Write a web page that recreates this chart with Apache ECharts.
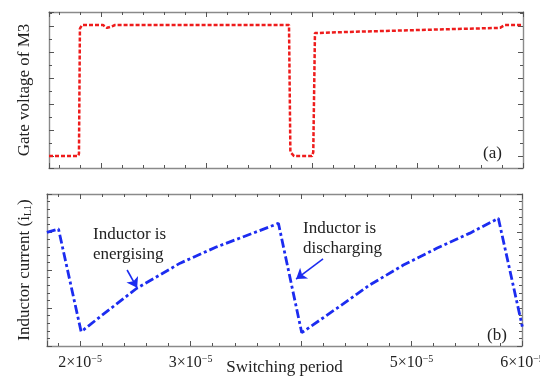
<!DOCTYPE html>
<html>
<head>
<meta charset="utf-8">
<script src="https://cdn.jsdelivr.net/npm/echarts@6/dist/echarts.min.js"></script>
<style>
  html, body { margin: 0; padding: 0; background: #fff; }
  #main { width: 540px; height: 378px; }
</style>
</head>
<body>
<div id="main"></div>
<script>
// time in units of 1e-5 s
var gateTime = [1.507, 1.785, 1.791, 1.80, 1.82, 2.019, 2.057, 2.104, 2.133, 3.782, 3.795, 3.83, 4.0, 4.012, 4.028, 4.40, 4.862, 5.30, 5.782, 5.829, 6.0];
var gateVolt = [0, 0, 0.1, 4.9, 5.04, 5.04, 4.93, 4.99, 5.04, 5.04, 0.15, 0, 0, 0.15, 4.73, 4.78, 4.83, 4.88, 4.93, 5.04, 5.04];

var currTime = [1.699, 1.804, 2.009, 2.181, 2.513, 2.905, 3.237, 3.719, 3.795, 4.006, 4.323, 4.624, 4.926, 5.228, 5.529, 5.786, 6.003];
var currVal  = [2.99, 3.08, 0.376, 0.77, 1.52, 2.18, 2.61, 3.14, 3.23, 0.35, 0.99, 1.61, 2.13, 2.57, 2.97, 3.36, 0.51];

var xTickLabels = [2, 3, 5, 6]; // 4 is covered by the axis title

// annotation arrows [from, to] in data units of lower panel
var arrowEnergising  = [[2.425, 2.0], [2.516, 1.53]];
var arrowDischarging = [[4.199, 2.29], [3.955, 1.76]];

var serif = "'Liberation Serif', 'Times New Roman', serif";
var axisCol = '#8a8a8a';
var tickCol = '#555';

function pairs(xs, ys) {
    var out = [];
    for (var i = 0; i < xs.length; i++) out.push([xs[i], ys[i]]);
    return out;
}

function frameAxis(opt) {
    var a = {
        type: 'value',
        gridIndex: opt.grid,
        position: opt.position,
        min: opt.min,
        max: opt.max,
        axisLine: { show: true, onZero: false, lineStyle: { color: axisCol, width: 1.4 } },
        axisTick: { show: true, inside: true, length: 5, lineStyle: { color: tickCol, width: 1 } },
        minorTick: { show: true, splitNumber: opt.minor, length: 3, lineStyle: { color: tickCol, width: 1 } },
        axisLabel: { show: false },
        splitLine: { show: false },
        minorSplitLine: { show: false }
    };
    return a;
}

var xAxes = [
    frameAxis({ grid: 0, position: 'bottom', min: 1.507, max: 6.0, minor: 5 }),
    frameAxis({ grid: 0, position: 'top', min: 1.507, max: 6.0, minor: 5 }),
    frameAxis({ grid: 1, position: 'bottom', min: 1.70, max: 6.0, minor: 5 }),
    frameAxis({ grid: 1, position: 'top', min: 1.70, max: 6.0, minor: 5 })
];
xAxes[2].axisLabel = {
    show: true,
    margin: 8,
    showMinLabel: false,
    formatter: function (v) {
        var n = Math.round(v);
        if (Math.abs(v - n) > 1e-6 || xTickLabels.indexOf(n) < 0) return '';
        return '{m|' + n + '×10}{s|−5}';
    },
    rich: {
        m: { fontFamily: serif, fontSize: 16, color: '#222', lineHeight: 18 },
        s: { fontFamily: serif, fontSize: 10, color: '#222', lineHeight: 10, verticalAlign: 'top' }
    }
};
xAxes[2].name = 'Switching period';
xAxes[2].nameLocation = 'middle';
xAxes[2].nameGap = 13;
xAxes[2].nameMoveOverlap = false;
xAxes[2].nameTextStyle = { fontFamily: serif, fontSize: 17, color: '#222' };

var yAxes = [
    frameAxis({ grid: 0, position: 'left', min: -0.46, max: 5.54, minor: 2 }),
    frameAxis({ grid: 0, position: 'right', min: -0.46, max: 5.54, minor: 2 }),
    frameAxis({ grid: 1, position: 'left', min: 0, max: 4, minor: 5 }),
    frameAxis({ grid: 1, position: 'right', min: 0, max: 4, minor: 5 })
];
yAxes[0].name = 'Gate voltage of M3';
yAxes[0].nameLocation = 'middle';
yAxes[0].nameGap = 16;
yAxes[0].nameTextStyle = { fontFamily: serif, fontSize: 17, color: '#222' };
yAxes[2].name = 'Inductor current (i{sub|L1})';
yAxes[2].nameLocation = 'middle';
yAxes[2].nameGap = 14;
yAxes[2].nameTextStyle = {
    fontFamily: serif, fontSize: 17, color: '#222',
    rich: { sub: { fontFamily: serif, fontSize: 10, color: '#222', verticalAlign: 'bottom', lineHeight: 10 } }
};

option = {
    animation: false,
    backgroundColor: '#fff',
    grid: [
        { left: 49, right: 17, top: 12, height: 156, outerBoundsMode: 'none' },
        { left: 47, right: 18, top: 194, height: 152, outerBoundsMode: 'none' }
    ],
    xAxis: xAxes,
    yAxis: yAxes,
    graphic: [
        { type: 'text', left: 483, top: 145, style: { text: '(a)', font: '17px ' + serif, fill: '#222' } },
        { type: 'text', left: 487, top: 327, style: { text: '(b)', font: '17px ' + serif, fill: '#222' } },
        { type: 'text', left: 93, top: 225, style: { text: 'Inductor is\nenergising', font: '17px ' + serif, fill: '#222', lineHeight: 20 } },
        { type: 'text', left: 303, top: 219, style: { text: 'Inductor is\ndischarging', font: '17px ' + serif, fill: '#222', lineHeight: 20 } }
    ],
    series: [
        {
            name: 'gate',
            type: 'line',
            xAxisIndex: 0,
            yAxisIndex: 0,
            symbol: 'none',
            data: pairs(gateTime, gateVolt),
            lineStyle: { color: '#ee1c1c', width: 2.5, type: [4, 2] }
        },
        {
            name: 'current',
            type: 'line',
            xAxisIndex: 2,
            yAxisIndex: 2,
            symbol: 'none',
            data: pairs(currTime, currVal),
            lineStyle: { color: '#1c2cf0', width: 2.8, type: [9, 3, 3, 3] },
            markLine: {
                silent: true,
                symbol: ['none', 'arrow'],
                symbolSize: 10,
                label: { show: false },
                lineStyle: { color: '#1c2cf0', width: 1.6, type: 'solid' },
                data: [
                    [{ coord: arrowEnergising[0] }, { coord: arrowEnergising[1] }],
                    [{ coord: arrowDischarging[0] }, { coord: arrowDischarging[1] }]
                ]
            }
        }
    ]
};

var chart = echarts.init(document.getElementById('main'));
chart.setOption(option);
</script>
</body>
</html>
